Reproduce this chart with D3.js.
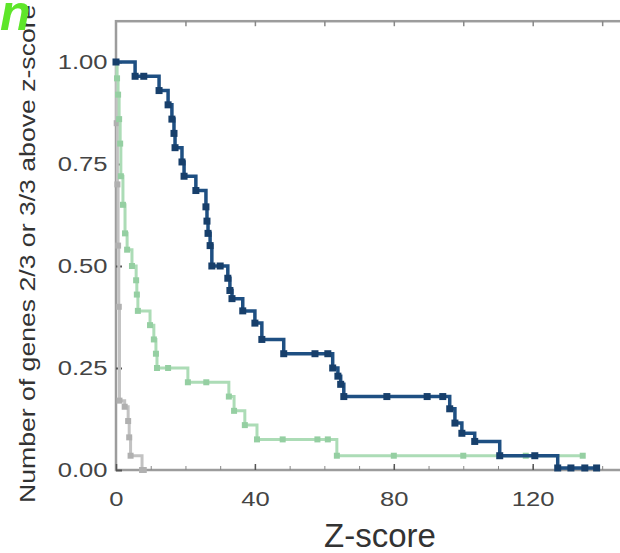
<!DOCTYPE html>
<meta charset="utf-8">
<style>
body { margin: 0; background: #fff; }
text { font-family: "Liberation Sans", Arial, sans-serif; }
</style>
<body>
<script src="https://d3js.org/d3.v7.min.js"></script>
<script>

// step curves: z-score where the level starts, fraction of genes
var blueZ = [0, 5.5, 12.4, 15.0, 16.1, 16.7, 17.0, 19.0, 19.6, 23.0, 25.9, 26.2, 26.5, 27.1, 27.6, 32.2, 32.8, 33.4, 36.5, 40.0, 42.0, 48.3, 62.4, 63.9, 64.7, 65.6, 96.1, 97.6, 99.6, 103.3, 110.5, 127.2, 138.4];
var blueV = [1.00, 0.965, 0.93, 0.895, 0.86, 0.825, 0.79, 0.755, 0.72, 0.685, 0.645, 0.61, 0.58, 0.55, 0.50, 0.47, 0.44, 0.42, 0.39, 0.36, 0.32, 0.285, 0.25, 0.23, 0.21, 0.18, 0.15, 0.115, 0.09, 0.07, 0.035, 0.005, 0.005];
var blueCensorZ = [8.0, 30.0, 57.3, 61.0, 78.0, 89.6, 94.1, 120.6, 131.0, 135.0];

var greenZ = [0, 0.3, 0.6, 0.9, 1.2, 1.4, 2.0, 2.6, 3.2, 4.6, 5.8, 6.0, 6.3, 9.8, 10.9, 11.5, 11.8, 20.7, 32.5, 34.0, 37.1, 40.6, 63.6, 134.4];
var greenV = [1.00, 0.96, 0.92, 0.86, 0.80, 0.72, 0.65, 0.58, 0.54, 0.50, 0.465, 0.43, 0.39, 0.355, 0.32, 0.285, 0.25, 0.215, 0.18, 0.145, 0.11, 0.075, 0.035, 0.035];
var greenCensorZ = [15.0, 26.0, 48.0, 58.0, 61.0, 80.0, 100.0, 118.0];

var greyZ = [0, 0.2, 0.4, 0.6, 0.8, 1.0, 2.5, 3.5, 3.8, 4.2, 7.5, 8.0];
var greyV = [1.00, 0.85, 0.70, 0.55, 0.40, 0.17, 0.155, 0.12, 0.08, 0.035, 0.0, 0.0];

var xTicks = [0, 40, 80, 120];
var yTicks = [0, 0.25, 0.5, 0.75, 1.0];

var W = 620, H = 553;
var stretch = 1.22;

var svg = d3.select("body").append("svg")
    .attr("width", W)
    .attr("height", H);

var x = d3.scaleLinear().domain([0, 146]).range([116, 623]);
var y = d3.scaleLinear().domain([0, 1.1]).range([470, 21.2]);

function pts(zs, vs) { return zs.map(function(z, i) { return [z, vs[i]]; }); }
function levelAt(zs, vs, z) { return vs[Math.max(0, d3.bisectRight(zs, z) - 1)]; }

// frame
svg.append("rect")
    .attr("x", x(0)).attr("y", y(1.1))
    .attr("width", x(146) - x(0)).attr("height", y(0) - y(1.1))
    .attr("fill", "none").attr("stroke", "#9c9c9c").attr("stroke-width", 2.5);

// minor ticks
svg.append("g")
    .attr("transform", "translate(0," + y(0) + ")")
    .call(d3.axisBottom(x).tickValues(d3.range(10, 146, 10)).tickSize(-4).tickFormat(""))
    .call(function(g) { g.select(".domain").remove(); g.selectAll("line").attr("stroke", "#888"); });
svg.append("g")
    .attr("transform", "translate(0," + y(1.1) + ")")
    .call(d3.axisTop(x).tickValues(d3.range(20, 146, 20)).tickSize(-5).tickFormat(""))
    .call(function(g) { g.select(".domain").remove(); g.selectAll("line").attr("stroke", "#888").attr("stroke-width", 1.5); });

// x axis
svg.append("g")
    .attr("transform", "translate(0," + y(0) + ")")
    .call(d3.axisBottom(x).tickValues(xTicks).tickSize(-6).tickPadding(21).tickFormat(d3.format("d")))
    .call(function(g) {
      g.select(".domain").remove();
      g.selectAll("line").attr("stroke", "#555").attr("stroke-width", 1.5);
      g.selectAll("text").attr("font-size", 21).attr("fill", "#444")
        .attr("transform", "scale(" + stretch + ",1)");
    });

// y axis
svg.append("g")
    .attr("transform", "translate(" + x(0) + ",0)")
    .call(d3.axisLeft(y).tickValues(yTicks).tickSize(-6).tickPadding(7).tickFormat(d3.format(".2f")))
    .call(function(g) {
      g.select(".domain").remove();
      g.selectAll("line").attr("stroke", "#555").attr("stroke-width", 2);
      g.selectAll("text").attr("font-size", 21).attr("fill", "#444")
        .attr("transform", "scale(" + stretch + ",1)");
    });

var line = d3.line()
    .x(function(d) { return x(d[0]); })
    .y(function(d) { return y(d[1]); })
    .curve(d3.curveStepAfter);

var series = [
  {z: greyZ, v: greyV, censor: [], color: "#c2c2c2", mark: "#b0b0b0", w: 3, m: 6},
  {z: greenZ, v: greenV, censor: greenCensorZ, color: "#acdcb6", mark: "#95cfa2", w: 3, m: 6},
  {z: blueZ, v: blueV, censor: blueCensorZ, color: "#1e4f82", mark: "#173f6b", w: 3.5, m: 7}
];

series.forEach(function(s) {
  svg.append("path")
      .datum(pts(s.z, s.v))
      .attr("fill", "none")
      .attr("stroke", s.color)
      .attr("stroke-width", s.w)
      .attr("d", line);

  var marks = pts(s.z, s.v).concat(s.censor.map(function(z) { return [z, levelAt(s.z, s.v, z)]; }));
  svg.append("g").selectAll("rect")
      .data(marks)
    .enter().append("rect")
      .attr("x", function(d) { return x(d[0]) - s.m / 2; })
      .attr("y", function(d) { return y(d[1]) - s.m / 2; })
      .attr("width", s.m).attr("height", s.m)
      .attr("fill", s.mark);
});

// axis titles
svg.append("text")
    .attr("x", 380).attr("y", 547)
    .attr("text-anchor", "middle")
    .attr("font-size", 33)
    .attr("fill", "#333")
    .text("Z-score");

svg.append("g")
    .attr("transform", "translate(35,503) rotate(-90)")
  .append("text")
    .attr("transform", "scale(1.21,1)")
    .attr("font-size", 22)
    .attr("fill", "#333")
    .text("Number of genes 2/3 or 3/3 above z-score");

// panel letter
svg.append("text")
    .attr("x", 0).attr("y", 30)
    .attr("font-size", 50)
    .attr("font-weight", "bold")
    .attr("font-style", "italic")
    .attr("fill", "#5ee62a")
    .text("n");

</script>
</body>
